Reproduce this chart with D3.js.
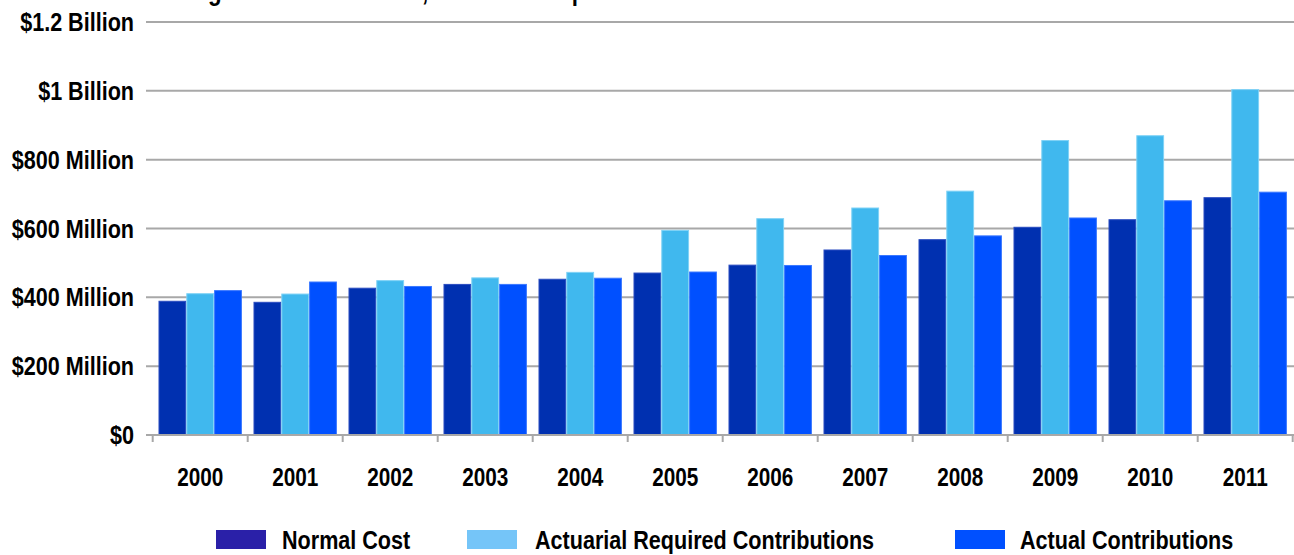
<!DOCTYPE html>
<html>
<head>
<meta charset="utf-8">
<script src="https://cdn.jsdelivr.net/npm/d3@7"></script>
<style>
  html, body { margin: 0; padding: 0; background: #ffffff; }
  svg { display: block; }
  text { font-family: "Liberation Sans", Arial, sans-serif; font-weight: bold; fill: #000; }
</style>
</head>
<body>
<svg id="chart" width="1294" height="555"></svg>
<script>
// Pension cost and contribution history, in millions of dollars
const years = ["2000", "2001", "2002", "2003", "2004", "2005", "2006", "2007", "2008", "2009", "2010", "2011"];
const normalCost = [390, 387, 428, 439, 454, 472, 495, 539, 569, 605, 627, 691];
const requiredContributions = [412, 411, 450, 458, 474, 596, 630, 661, 710, 857, 871, 1005];
const actualContributions = [421, 446, 433, 439, 457, 475, 494, 523, 580, 632, 682, 707];

const seriesNames = ["Normal Cost", "Actuarial Required Contributions", "Actual Contributions"];
const barColors = ["#0030b0", "#40b8ee", "#0050ff"];
const barEdges = ["#2a4cc0", "#7fd2f6", "#3a78ff"];
const legendColors = ["#2a20a8", "#75c5f8", "#0050ff"];

const yTicks = [0, 200, 400, 600, 800, 1000, 1200];
const yTickLabels = ["$0", "$200 Million", "$400 Million", "$600 Million", "$800 Million", "$1 Billion", "$1.2 Billion"];

const titleText = "Figure 3: Normal Cost, Actuarial Required Contributions and Actual Contributions";

// horizontal squeeze giving the condensed bold lettering
const squeeze = 0.83;

const svg = d3.select("#chart");

// draw a condensed text label anchored at (px, py)
function label(parent, px, py, str, size, anchor) {
  return parent.append("text")
    .attr("transform", `translate(${px},${py}) scale(${squeeze},1)`)
    .attr("text-anchor", anchor || "start")
    .attr("font-size", size)
    .text(str);
}

const x = d3.scaleBand()
  .domain(years)
  .range([152.7, 1292.7])
  .paddingInner(0.122)
  .paddingOuter(0.061);

const xSub = d3.scaleBand()
  .domain(d3.range(seriesNames.length))
  .range([0, x.bandwidth()])
  .padding(0);

const y = d3.scaleLinear()
  .domain([0, 1200])
  .range([435, 22]);

// Title (runs off the top edge)
label(svg, 188, 0, titleText, 27, "start");

// Horizontal gridlines
svg.append("g")
  .selectAll("line")
  .data(yTicks)
  .join("line")
  .attr("x1", 146)
  .attr("x2", 1294)
  .attr("y1", d => y(d))
  .attr("y2", d => y(d))
  .attr("stroke", "#a8a8a8")
  .attr("stroke-width", 2);

// Y tick labels
const yLabels = svg.append("g");
yTicks.forEach((d, i) => {
  label(yLabels, 134, y(d) + 9, yTickLabels[i], 26, "end");
});

// Bars
const table = years.map((yr, i) => ({
  year: yr,
  values: [normalCost[i], requiredContributions[i], actualContributions[i]]
}));

const groups = svg.append("g")
  .selectAll("g")
  .data(table)
  .join("g")
  .attr("transform", d => `translate(${x(d.year)},0)`);

groups.selectAll("rect")
  .data(d => d.values.map((v, k) => ({ k, v })))
  .join("rect")
  .attr("x", d => xSub(d.k) + 0.5)
  .attr("width", xSub.bandwidth() - 1)
  .attr("y", d => y(d.v) + 0.5)
  .attr("height", d => y(0) - y(d.v) - 0.5)
  .attr("fill", d => barColors[d.k])
  .attr("stroke", d => barEdges[d.k])
  .attr("stroke-width", 1);

// X axis with ticks between categories
const xAxis = svg.append("g");
xAxis.append("line")
  .attr("x1", 146).attr("x2", 1294)
  .attr("y1", y(0)).attr("y2", y(0))
  .attr("stroke", "#a8a8a8").attr("stroke-width", 2);

const boundaries = years.map(yr => x(yr) - x.step() * x.paddingOuter());
boundaries.push(x.range()[1]);
xAxis.selectAll("line.tick")
  .data(boundaries)
  .join("line")
  .attr("class", "tick")
  .attr("x1", d => d).attr("x2", d => d)
  .attr("y1", y(0)).attr("y2", y(0) + 7)
  .attr("stroke", "#a8a8a8").attr("stroke-width", 2);

years.forEach(yr => {
  label(xAxis, x(yr) + x.bandwidth() / 2, 486, yr, 25, "middle");
});

// Legend
const legendPos = [
  { sx: 216, tx: 282 },
  { sx: 467, tx: 535 },
  { sx: 955, tx: 1020 }
];
const legend = svg.append("g");
seriesNames.forEach((name, i) => {
  legend.append("rect")
    .attr("x", legendPos[i].sx)
    .attr("y", 530)
    .attr("width", 50)
    .attr("height", 19)
    .attr("fill", legendColors[i]);
  label(legend, legendPos[i].tx, 549, name, 26, "start");
});
</script>
</body>
</html>
